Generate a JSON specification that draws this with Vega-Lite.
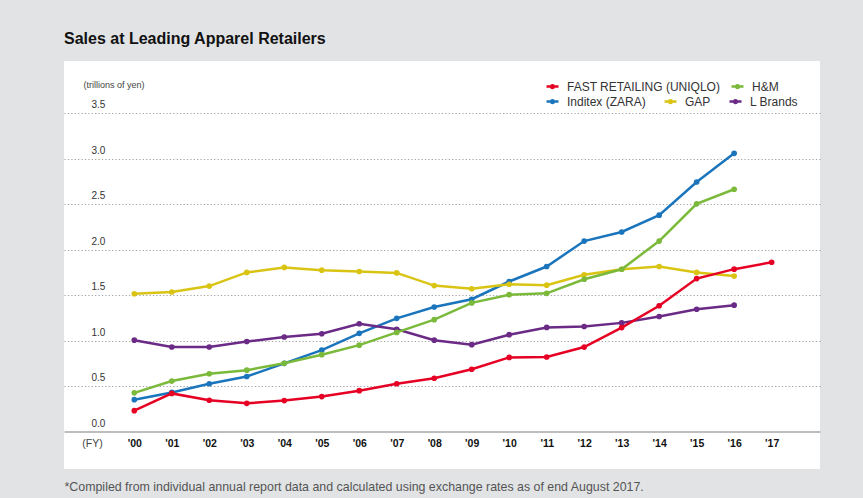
{
  "$schema": "https://vega.github.io/schema/vega-lite/v6.json",
  "width": 756,
  "height": 408,
  "autosize": {"type": "none"},
  "padding": {"left": 64, "top": 61, "right": 43, "bottom": 29},
  "background": "#e1e3e5",
  "title": {"text": "Sales at Leading Apparel Retailers", "anchor": "start", "fontSize": 16, "fontWeight": "bold", "color": "#111111", "font": "Liberation Sans", "baseline": "alphabetic", "offset": 1},
  "config": {"font": "Liberation Sans", "view": {"fill": "white", "stroke": null}},
  "data": {"values": [
    {"company": "FAST RETAILING (UNIQLO)", "year": 2000, "value": 0.229},
    {"company": "FAST RETAILING (UNIQLO)", "year": 2001, "value": 0.419},
    {"company": "FAST RETAILING (UNIQLO)", "year": 2002, "value": 0.344},
    {"company": "FAST RETAILING (UNIQLO)", "year": 2003, "value": 0.310},
    {"company": "FAST RETAILING (UNIQLO)", "year": 2004, "value": 0.340},
    {"company": "FAST RETAILING (UNIQLO)", "year": 2005, "value": 0.384},
    {"company": "FAST RETAILING (UNIQLO)", "year": 2006, "value": 0.449},
    {"company": "FAST RETAILING (UNIQLO)", "year": 2007, "value": 0.525},
    {"company": "FAST RETAILING (UNIQLO)", "year": 2008, "value": 0.586},
    {"company": "FAST RETAILING (UNIQLO)", "year": 2009, "value": 0.685},
    {"company": "FAST RETAILING (UNIQLO)", "year": 2010, "value": 0.815},
    {"company": "FAST RETAILING (UNIQLO)", "year": 2011, "value": 0.820},
    {"company": "FAST RETAILING (UNIQLO)", "year": 2012, "value": 0.929},
    {"company": "FAST RETAILING (UNIQLO)", "year": 2013, "value": 1.143},
    {"company": "FAST RETAILING (UNIQLO)", "year": 2014, "value": 1.383},
    {"company": "FAST RETAILING (UNIQLO)", "year": 2015, "value": 1.682},
    {"company": "FAST RETAILING (UNIQLO)", "year": 2016, "value": 1.786},
    {"company": "FAST RETAILING (UNIQLO)", "year": 2017, "value": 1.862},
    {"company": "H&M", "year": 2000, "value": 0.425},
    {"company": "H&M", "year": 2001, "value": 0.555},
    {"company": "H&M", "year": 2002, "value": 0.635},
    {"company": "H&M", "year": 2003, "value": 0.675},
    {"company": "H&M", "year": 2004, "value": 0.75},
    {"company": "H&M", "year": 2005, "value": 0.845},
    {"company": "H&M", "year": 2006, "value": 0.95},
    {"company": "H&M", "year": 2007, "value": 1.09},
    {"company": "H&M", "year": 2008, "value": 1.23},
    {"company": "H&M", "year": 2009, "value": 1.415},
    {"company": "H&M", "year": 2010, "value": 1.505},
    {"company": "H&M", "year": 2011, "value": 1.52},
    {"company": "H&M", "year": 2012, "value": 1.675},
    {"company": "H&M", "year": 2013, "value": 1.785},
    {"company": "H&M", "year": 2014, "value": 2.095},
    {"company": "H&M", "year": 2015, "value": 2.505},
    {"company": "H&M", "year": 2016, "value": 2.665},
    {"company": "Inditex (ZARA)", "year": 2000, "value": 0.35},
    {"company": "Inditex (ZARA)", "year": 2001, "value": 0.43},
    {"company": "Inditex (ZARA)", "year": 2002, "value": 0.525},
    {"company": "Inditex (ZARA)", "year": 2003, "value": 0.605},
    {"company": "Inditex (ZARA)", "year": 2004, "value": 0.75},
    {"company": "Inditex (ZARA)", "year": 2005, "value": 0.895},
    {"company": "Inditex (ZARA)", "year": 2006, "value": 1.08},
    {"company": "Inditex (ZARA)", "year": 2007, "value": 1.245},
    {"company": "Inditex (ZARA)", "year": 2008, "value": 1.37},
    {"company": "Inditex (ZARA)", "year": 2009, "value": 1.455},
    {"company": "Inditex (ZARA)", "year": 2010, "value": 1.65},
    {"company": "Inditex (ZARA)", "year": 2011, "value": 1.815},
    {"company": "Inditex (ZARA)", "year": 2012, "value": 2.095},
    {"company": "Inditex (ZARA)", "year": 2013, "value": 2.195},
    {"company": "Inditex (ZARA)", "year": 2014, "value": 2.38},
    {"company": "Inditex (ZARA)", "year": 2015, "value": 2.745},
    {"company": "Inditex (ZARA)", "year": 2016, "value": 3.06},
    {"company": "GAP", "year": 2000, "value": 1.515},
    {"company": "GAP", "year": 2001, "value": 1.535},
    {"company": "GAP", "year": 2002, "value": 1.6},
    {"company": "GAP", "year": 2003, "value": 1.75},
    {"company": "GAP", "year": 2004, "value": 1.805},
    {"company": "GAP", "year": 2005, "value": 1.775},
    {"company": "GAP", "year": 2006, "value": 1.76},
    {"company": "GAP", "year": 2007, "value": 1.745},
    {"company": "GAP", "year": 2008, "value": 1.605},
    {"company": "GAP", "year": 2009, "value": 1.57},
    {"company": "GAP", "year": 2010, "value": 1.62},
    {"company": "GAP", "year": 2011, "value": 1.61},
    {"company": "GAP", "year": 2012, "value": 1.725},
    {"company": "GAP", "year": 2013, "value": 1.785},
    {"company": "GAP", "year": 2014, "value": 1.815},
    {"company": "GAP", "year": 2015, "value": 1.75},
    {"company": "GAP", "year": 2016, "value": 1.71},
    {"company": "L Brands", "year": 2000, "value": 1.005},
    {"company": "L Brands", "year": 2001, "value": 0.93},
    {"company": "L Brands", "year": 2002, "value": 0.93},
    {"company": "L Brands", "year": 2003, "value": 0.99},
    {"company": "L Brands", "year": 2004, "value": 1.04},
    {"company": "L Brands", "year": 2005, "value": 1.075},
    {"company": "L Brands", "year": 2006, "value": 1.185},
    {"company": "L Brands", "year": 2007, "value": 1.125},
    {"company": "L Brands", "year": 2008, "value": 1.005},
    {"company": "L Brands", "year": 2009, "value": 0.955},
    {"company": "L Brands", "year": 2010, "value": 1.065},
    {"company": "L Brands", "year": 2011, "value": 1.145},
    {"company": "L Brands", "year": 2012, "value": 1.155},
    {"company": "L Brands", "year": 2013, "value": 1.195},
    {"company": "L Brands", "year": 2014, "value": 1.265},
    {"company": "L Brands", "year": 2015, "value": 1.345},
    {"company": "L Brands", "year": 2016, "value": 1.39}
  ]},
  "layer": [
    {
      "transform": [{"filter": {"field": "company", "oneOf": ["Inditex (ZARA)", "GAP", "L Brands"]}}],
      "mark": {"type": "line", "strokeWidth": 2.5, "point": {"filled": true, "size": 32}},
      "encoding": {
        "x": {"field": "year", "type": "quantitative", "scale": {"domain": [1998.125, 2018.29], "nice": false, "zero": false},
          "axis": {"values": [1998.872, 2000, 2001, 2002, 2003, 2004, 2005, 2006, 2007, 2008, 2009, 2010, 2011, 2012, 2013, 2014, 2015, 2016, 2017],
            "labelExpr": "datum.value < 1999.5 ? '(FY)' : \"'\" + substring(toString(datum.value), 2, 4)",
            "grid": false, "ticks": false, "tickSize": 0, "domain": true, "domainColor": "#bdbdbd", "domainWidth": 2,
            "offset": -37.5, "labelPadding": 11.5, "labelBaseline": "middle", "labelAlign": "center", "labelFlush": false, "labelOverlap": false, "labelBound": false,
            "labelFontSize": 10.5,
            "labelFontWeight": {"condition": {"test": "datum.value < 1999.5", "value": "normal"}, "value": "bold"},
            "labelColor": {"condition": {"test": "datum.value < 1999.5", "value": "#444444"}, "value": "#111111"},
            "title": "*Compiled from individual annual report data and calculated using exchange rates as of end August 2017.",
            "titleX": 0, "titleY": 55, "titleAlign": "left", "titleAnchor": "start", "titleBaseline": "middle", "titleFontSize": 12.4, "titleFontWeight": "normal", "titleColor": "#555555"}},
        "y": {"field": "value", "type": "quantitative", "scale": {"domain": [-0.4125, 4.076], "nice": false, "zero": false},
          "axis": {"values": [0, 0.5, 1, 1.5, 2, 2.5, 3, 3.5], "format": ".1f", "domain": false, "ticks": false, "tickSize": 0,
            "labelAlign": "left", "labelPadding": -27, "labelBaseline": "alphabetic", "labelOffset": -5.5, "labelFontSize": 10, "labelColor": "#333333", "labelFlush": false, "labelOverlap": false,
            "grid": true, "gridColor": "#a0a0a0", "gridDash": [1.2, 2.2], "gridWidth": 1.2,
            "gridOpacity": {"condition": {"test": "datum.value === 0", "value": 0}, "value": 1},
            "title": "(trillions of yen)", "titleAngle": 0, "titleX": 19, "titleY": 23, "titleAlign": "left", "titleBaseline": "middle", "titleFontSize": 9, "titleFontWeight": "normal", "titleColor": "#444444"}},
        "color": {"field": "company", "type": "nominal",
          "scale": {"domain": ["Inditex (ZARA)", "GAP", "L Brands"], "range": ["#1a75bc", "#d9c414", "#6a2a86"]},
          "legend": {"orient": "none", "legendX": 481, "legendY": 33, "direction": "horizontal", "title": null, "columnPadding": 13,
            "symbolType": "M-1,0L1,0M-0.22,0A0.22,0.22 0 1,0 0.22,0A0.22,0.22 0 1,0 -0.22,0Z", "symbolSize": 144, "symbolStrokeWidth": 2.5,
            "labelFontSize": 12, "labelOffset": 7, "labelColor": "#333333", "labelLimit": 300, "padding": 0}}
      }
    },
    {
      "transform": [{"filter": {"field": "company", "oneOf": ["FAST RETAILING (UNIQLO)", "H&M"]}}],
      "mark": {"type": "line", "strokeWidth": 2.5, "point": {"filled": true, "size": 32}},
      "encoding": {
        "x": {"field": "year", "type": "quantitative"},
        "y": {"field": "value", "type": "quantitative"},
        "color": {"field": "company", "type": "nominal",
          "scale": {"domain": ["FAST RETAILING (UNIQLO)", "H&M"], "range": ["#e60023", "#7bb93a"]},
          "legend": {"orient": "none", "legendX": 481, "legendY": 18, "direction": "horizontal", "title": null, "columnPadding": 5,
            "symbolType": "M-1,0L1,0M-0.22,0A0.22,0.22 0 1,0 0.22,0A0.22,0.22 0 1,0 -0.22,0Z", "symbolSize": 144, "symbolStrokeWidth": 2.5,
            "labelFontSize": 12, "labelOffset": 7, "labelColor": "#333333", "labelLimit": 300, "padding": 0}}
      }
    }
  ],
  "resolve": {"scale": {"color": "independent"}, "legend": {"color": "independent"}}
}
